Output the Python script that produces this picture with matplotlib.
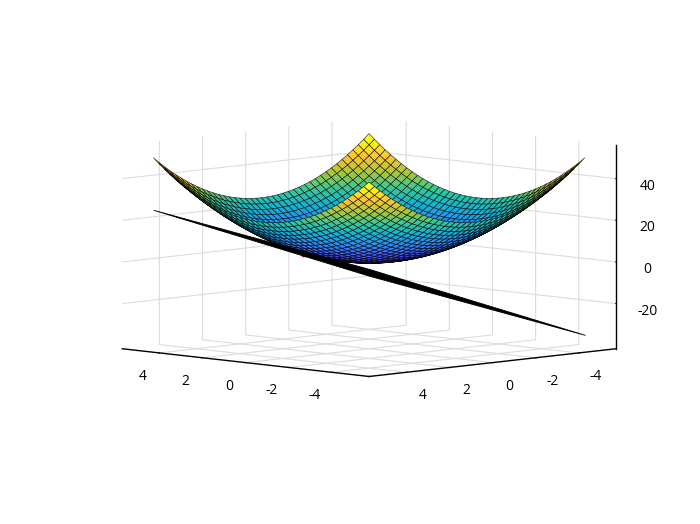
import numpy as np
import matplotlib
matplotlib.use('Agg')
import matplotlib.pyplot as plt
from matplotlib.colors import LinearSegmentedColormap, Normalize

# surface grid: x and y run over the same values
grid_vals = [-5, -4.75, -4.5, -4.25, -4, -3.75, -3.5, -3.25, -3, -2.75, -2.5, -2.25, -2, -1.75, -1.5, -1.25, -1, -0.75, -0.5, -0.25,
             0, 0.25, 0.5, 0.75, 1, 1.25, 1.5, 1.75, 2, 2.25, 2.5, 2.75, 3, 3.25, 3.5, 3.75, 4, 4.25, 4.5, 4.75, 5]
# height contributed by one coordinate along the grid
z_profile = [25, 22.5625, 20.25, 18.0625, 16, 14.0625, 12.25, 10.5625, 9, 7.5625, 6.25, 5.0625, 4, 3.0625, 2.25, 1.5625, 1, 0.5625, 0.25, 0.0625,
             0, 0.0625, 0.25, 0.5625, 1, 1.5625, 2.25, 3.0625, 4, 5.0625, 6.25, 7.5625, 9, 10.5625, 12.25, 14.0625, 16, 18.0625, 20.25, 22.5625, 25]

# plane corners
plane_x = [-5, 5]
plane_y = [-5, 5]
plane_z = [[-35, -15], [5, 25]]

# touch point
point_x = [1]
point_y = [2]
point_z = [5]

xy_ticks = [-4, -2, 0, 2, 4]
xy_labels = ['-4', '-2', '0', '2', '4']
z_ticks = [-20, 0, 20, 40]
z_labels = ['-20', '0', '20', '40']

parula_colors = [(0.2422, 0.1504, 0.6603), (0.2810, 0.3228, 0.9579), (0.1786, 0.5289, 0.9682), (0.0689, 0.6948, 0.8394),
                 (0.2161, 0.7843, 0.5923), (0.6720, 0.7793, 0.2227), (0.9970, 0.7659, 0.2199), (0.9769, 0.9839, 0.0805)]
parula = LinearSegmentedColormap.from_list('parula', parula_colors)

plt.rcParams['font.family'] = ['Open Sans', 'DejaVu Sans']
plt.rcParams['font.size'] = 10
plt.rcParams['grid.color'] = '#dcdcdc'
plt.rcParams['grid.linewidth'] = 0.8

X, Y = np.meshgrid(grid_vals, grid_vals)
Z = np.add.outer(z_profile, z_profile)
PX, PY = np.meshgrid(plane_x, plane_y)
PZ = np.array(plane_z)

fig = plt.figure(figsize=(7, 5.24), dpi=100)
ax = fig.add_axes([100 / 700, 8 / 524, 524 / 700, 1.0], projection='3d', computed_zorder=False)
ax.set_proj_type('ortho')
ax.view_init(elev=6.45, azim=135)
ax.set_box_aspect((349, 349, 205), zoom=0.99)

ax.plot(point_x, point_y, point_z, 's', color='red', ms=3.5, zorder=1)
ax.plot_surface(X, Y, Z, rstride=1, cstride=1, cmap=parula, norm=Normalize(0, 47), edgecolor=(0, 0, 0, 0.8),
                linewidth=0.45, shade=False, antialiased=True, zorder=2)
ax.plot_surface(PX, PY, PZ, rstride=1, cstride=1, color='black', edgecolor='black', linewidth=0.6, shade=False, zorder=3)

ax.set_xlim(-5.72, 5.72)
ax.set_ylim(-5.72, 5.72)
ax.set_zlim(-41.7, 56.1)
ax.set_xticks(xy_ticks, xy_labels)
ax.set_yticks(xy_ticks, xy_labels)
ax.set_zticks(z_ticks, z_labels)
ax.tick_params(axis='x', pad=5.5)
ax.tick_params(axis='y', pad=5.5)
ax.tick_params(axis='z', pad=4.5)

for axis in (ax.xaxis, ax.yaxis, ax.zaxis):
    axis.set_pane_color((1, 1, 1, 0))
    axis.pane.set_edgecolor('none')
    axis.line.set_color('black')
    axis.line.set_linewidth(1.0)
    axis._axinfo['tick'].update({'inward_factor': 0.03, 'outward_factor': 0.0})
    axis._axinfo['tick']['linewidth'] = {True: 0.8, False: 0.5}

fig.savefig('out.png', dpi=100)
